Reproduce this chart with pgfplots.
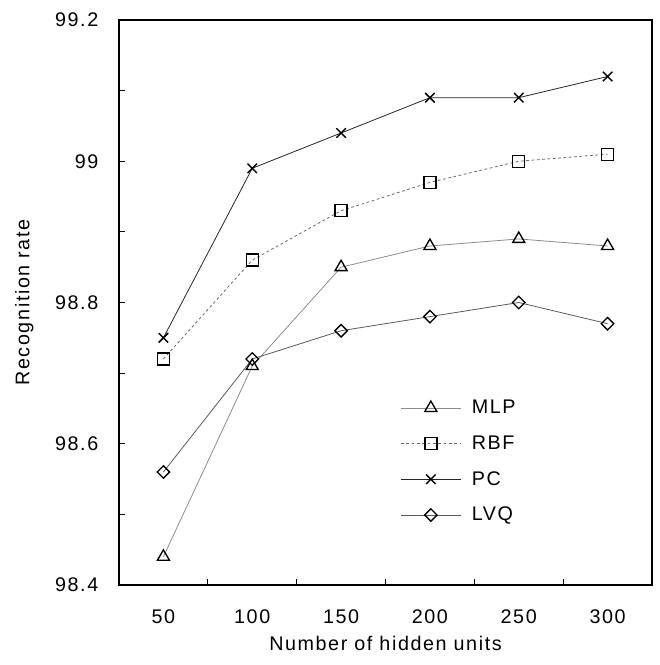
\documentclass[border=0pt]{standalone}
\usepackage{fontspec}
\setmainfont{Liberation Sans}[LetterSpace=8]
\usepackage{pgfplots}
\pgfplotsset{compat=1.18}
\newcommand\f{\fontsize{14.8}{17}\selectfont}
\begin{document}
\begin{tikzpicture}
\begin{axis}[
  name=ax,
  scale only axis,
  width=399.75pt, height=423.75pt,
  xmin=25, xmax=325, ymin=98.4, ymax=99.2,
  axis line style={line width=1pt},
  xtick={75,125,175,225,275},
  xticklabels={},
  extra x ticks={50,100,150,200,250,300},
  extra x tick style={major tick length=0pt},
  ytick={98.4,98.6,98.8,99.0,99.2},
  yticklabels={98.4,98.6,98.8,99,99.2},
  minor ytick={98.5,98.7,98.9,99.1},
  xtick pos=bottom, ytick pos=left,
  tick align=inside,
  tick style={line width=0.7pt,black},
  major tick length=4.5pt, minor tick length=4.5pt,
  /pgf/number format/assume math mode=true,
  tick label style={font=\f},
  xticklabel style={yshift=-15pt},
  yticklabel style={xshift=-12pt},
  xlabel={Number of hidden units},
  ylabel={Recognition rate},
  label style={font=\f},
  xlabel style={at={(rel axis cs:0.5,0)}, anchor=center, yshift=-43.5pt},
  ylabel style={at={(rel axis cs:0,0.5)}, anchor=center, yshift=71pt},
  legend style={draw=none, fill=none, font=\f, at={(rel axis cs:0.52,0.337)}, anchor=north west, row sep=11pt,
    /tikz/every odd column/.append style={column sep=6pt}},
  legend cell align=left,
  legend image code/.code={\draw[mark repeat=2,mark phase=2] plot coordinates {(0pt,0pt) (22.5pt,0pt) (45pt,0pt)};},
  every axis plot/.append style={line width=0.6pt},
]
\addplot[black!45, mark=triangle, mark size=5.2pt, mark options={solid, draw=black, line width=1pt}]
  coordinates {(50,98.44) (100,98.71) (150,98.85) (200,98.88) (250,98.89) (300,98.88)};
\addlegendentry{MLP}
\addplot[black!60, dash pattern=on 2pt off 2pt, mark=square, mark size=4.5pt, mark options={solid, draw=black, line width=1pt}]
  coordinates {(50,98.72) (100,98.86) (150,98.93) (200,98.97) (250,99.00) (300,99.01)};
\addlegendentry{RBF}
\addplot[black!85, mark=x, mark size=5pt, mark options={solid, draw=black, line width=1.1pt}]
  coordinates {(50,98.75) (100,98.99) (150,99.04) (200,99.09) (250,99.09) (300,99.12)};
\addlegendentry{PC}
\addplot[black!65, mark=square, mark size=3.3pt, mark options={solid, draw=black, line width=1pt, rotate=45}]
  coordinates {(50,98.56) (100,98.72) (150,98.76) (200,98.78) (250,98.80) (300,98.77)};
\addlegendentry{LVQ}
\end{axis}
\path (ax.south west) ++(-89.25pt,-60pt) rectangle ([shift={(5.25pt,15pt)}]ax.north east);
\end{tikzpicture}
\end{document}
